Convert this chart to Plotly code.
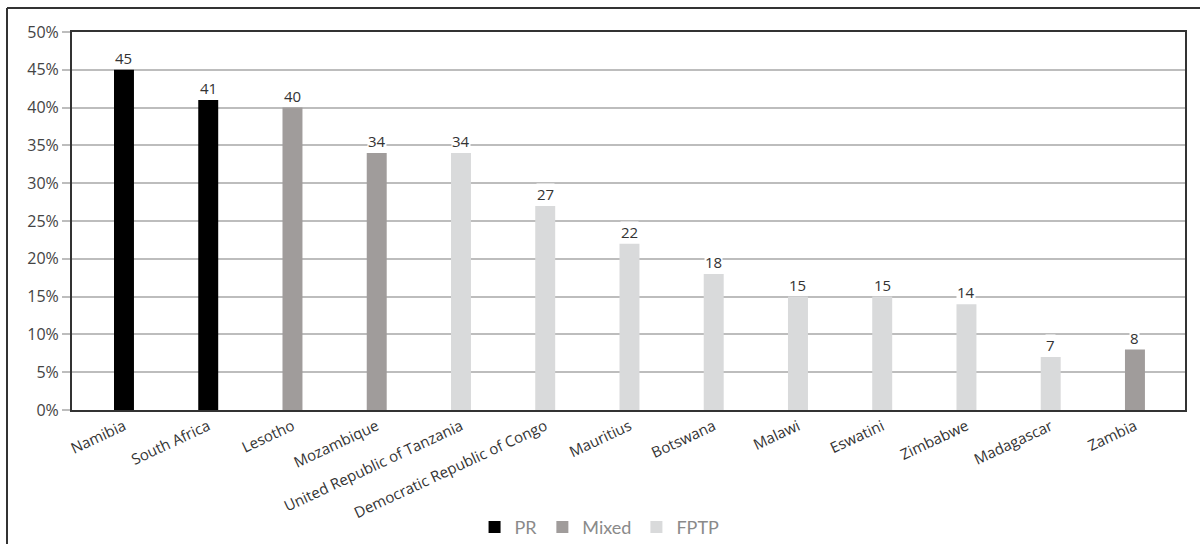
import plotly.graph_objects as go

# Women's share of seats by country, grouped by electoral system
countries = ["Namibia", "South Africa", "Lesotho", "Mozambique",
             "United Republic of Tanzania", "Democratic Republic of Congo",
             "Mauritius", "Botswana", "Malawi", "Eswatini", "Zimbabwe",
             "Madagascar", "Zambia"]
values = [45, 41, 40, 34, 34, 27, 22, 18, 15, 15, 14, 7, 8]
systems = ["PR", "PR", "Mixed", "Mixed", "FPTP", "FPTP", "FPTP", "FPTP",
           "FPTP", "FPTP", "FPTP", "FPTP", "Mixed"]

system_order = ["PR", "Mixed", "FPTP"]
system_colors = {"PR": "#000000", "Mixed": "#A09C9B", "FPTP": "#D9DADB"}

y_ticks = list(range(0, 51, 5))
y_tick_labels = [f"{t}%" for t in y_ticks]

fig = go.Figure()
for s in system_order:
    xs = [c for c, sy in zip(countries, systems) if sy == s]
    ys = [v for v, sy in zip(values, systems) if sy == s]
    fig.add_trace(go.Bar(
        x=xs, y=ys, name=s, marker=dict(color=system_colors[s], line=dict(width=0)),
        width=0.237, hoverinfo="x+y",
    ))

# value labels on white patches above each bar
for c, v in zip(countries, values):
    fig.add_annotation(x=c, y=v, text=str(v), showarrow=False, yanchor="bottom",
                       yshift=1, bgcolor="white", borderpad=0,
                       font=dict(family="Open Sans", size=15, color="#333333"))

# outer frame (left and top edges)
fig.add_shape(type="line", xref="paper", yref="paper",
              x0=-0.0584, x1=-0.0584, y0=1.0635, y1=-0.36,
              line=dict(color="#333333", width=2))
fig.add_shape(type="line", xref="paper", yref="paper",
              x0=-0.0584, x1=1.02, y0=1.0635, y1=1.0635,
              line=dict(color="#333333", width=2))

fig.update_layout(
    width=1200, height=544,
    margin=dict(l=72, r=15, t=32, b=134, autoexpand=False),
    paper_bgcolor="white", plot_bgcolor="white",
    barmode="overlay",
    showlegend=True,
    legend=dict(orientation="h", x=0.474, xanchor="center", y=-0.31, yanchor="middle",
                font=dict(family="Lato", size=18, color="#8a8a8a"),
                itemwidth=30, tracegroupgap=0, traceorder="normal"),
    font=dict(family="Open Sans", color="#333333"),
)
fig.update_xaxes(
    categoryorder="array", categoryarray=countries,
    range=[-0.617, 12.594],
    tickangle=-25, tickfont=dict(family="Open Sans", size=15, color="#333333"),
    showline=True, linecolor="#333333", linewidth=2, mirror=True,
    ticks="", showgrid=False, automargin=False,
)
fig.update_yaxes(
    range=[0, 50], tickvals=y_ticks, ticktext=y_tick_labels,
    tickfont=dict(family="Open Sans", size=16, color="#444444"),
    showgrid=True, gridcolor="#BDBDBD", gridwidth=1.5,
    ticks="outside", ticklen=8, tickcolor="#BDBDBD", tickwidth=1.5,
    showline=True, linecolor="#333333", linewidth=2, mirror=True,
    zeroline=False, automargin=False,
)

fig.write_html("out.html")
